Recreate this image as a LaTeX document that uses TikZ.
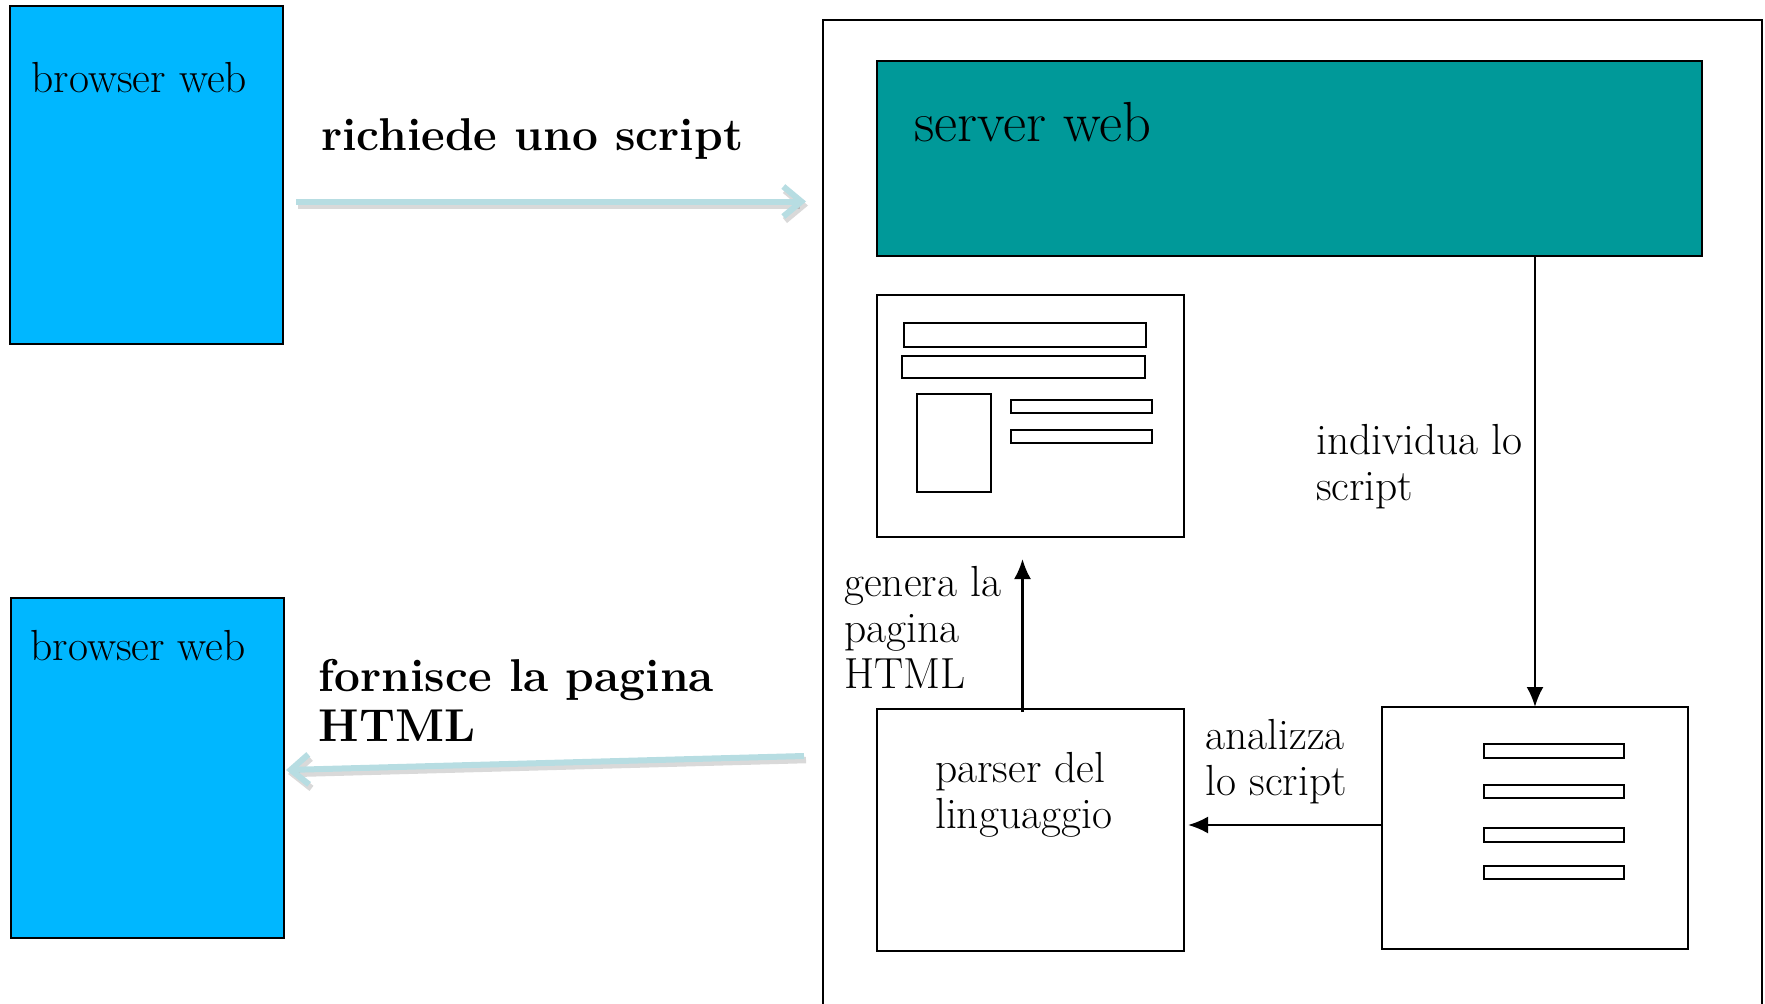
\documentclass[tikz,border=0pt]{standalone}
\usepackage{fontspec}
\usetikzlibrary{arrows.meta}
\definecolor{browserblue}{RGB}{0,183,255}
\definecolor{serverteal}{RGB}{0,153,153}
\definecolor{flowblue}{RGB}{183,221,226}
\begin{document}
\begin{tikzpicture}[x=1pt,y=-1pt,
  box/.style={draw=black,line width=2pt,inner sep=0pt,outer sep=0pt,anchor=north west},
  bar/.style={draw=black,line width=1.8pt},
  txt/.style={font=\fontsize{43.5}{46}\selectfont,inner sep=0pt,anchor=base west,align=left},
  btxt/.style={font=\fontsize{46}{49.5}\selectfont\bfseries,inner sep=0pt,anchor=base west,align=left},
  flow/.style={draw=flowblue,line width=6pt,-{Straight Barb[length=18pt,width=30pt]}},
  flowshadow/.style={draw=black,opacity=0.15,line width=6.5pt,-{Straight Barb[length=18pt,width=30pt]}},
  link/.style={draw=black,line width=2.4pt,-{Latex[length=20pt,width=17pt]}}
]
\useasboundingbox (0,0) rectangle (1765,1004);
% browsers
\node[box,fill=browserblue,minimum width=273pt,minimum height=338pt] (b1) at (10,6) {};
\node[box,fill=browserblue,minimum width=273pt,minimum height=340pt] (b2) at (11,598) {};
\node[txt] (b1t) at (31.5,92) {browser web};
\node[txt] (b2t) at (30.4,660) {browser web};
% server container (open at the bottom)
\draw[line width=2.5pt] (823,1010) -- (823,20) -- (1762,20) -- (1762,1010);
\node[box,fill=serverteal,minimum width=825pt,minimum height=195pt] (server) at (877,61) {};
\node[txt,font=\fontsize{56.5}{60}\selectfont] (srvt) at (914,141) {server web};
% html page
\node[box,minimum width=307pt,minimum height=242pt] (page) at (877,295) {};
\draw[bar] (904,323) rectangle (1146,347);
\draw[bar] (902,356) rectangle (1145,378);
\draw[bar] (917,394) rectangle (991,492);
\draw[bar] (1011,400) rectangle (1152,413);
\draw[bar] (1011,430) rectangle (1152,443);
% script
\node[box,minimum width=306pt,minimum height=242pt] (script) at (1382,707) {};
\draw[bar] (1484,744) rectangle (1624,758);
\draw[bar] (1484,785) rectangle (1624,798);
\draw[bar] (1484,828) rectangle (1624,842);
\draw[bar] (1484,866) rectangle (1624,879);
% parser
\node[box,minimum width=307pt,minimum height=242pt] (parser) at (877,709) {};
\node[txt] (part) at (935,828) {parser del\\linguaggio};
% labels (anchored at the baseline of their last line)
\node[btxt] (req) at (321,150) {richiede uno script};
\node[btxt] (resp) at (318.5,741) {fornisce la pagina\\HTML};
\node[txt] (ind) at (1316,500) {individua lo\\script};
\node[txt] (gen) at (844,688) {genera la\\pagina\\HTML};
\node[txt] (ana) at (1205.5,795) {analizza\\lo script};
% flows
\coordinate (a1s) at (296,201.5);
\coordinate (a1e) at (806,201.5);
\coordinate (a2s) at (804,756);
\coordinate (a2e) at (286,770);
\draw[flowshadow] ([shift={(2,4)}]a1s) -- ([shift={(2,4)}]a1e);
\draw[flow] (a1s) -- (a1e);
\draw[flowshadow] ([shift={(2,4)}]a2s) -- ([shift={(2,4)}]a2e);
\draw[flow] (a2s) -- (a2e);
% connectors
\draw[link] (script.north |- server.south) -- (script.north);
\draw[link] ([yshift=3pt]script.west) -- ([xshift=4pt,yshift=3pt]script.west -| parser.east);
\draw[link] ([xshift=-8pt,yshift=-3pt]parser.north) -- ([xshift=-8pt,yshift=-22pt]page.south);
\end{tikzpicture}
\end{document}
